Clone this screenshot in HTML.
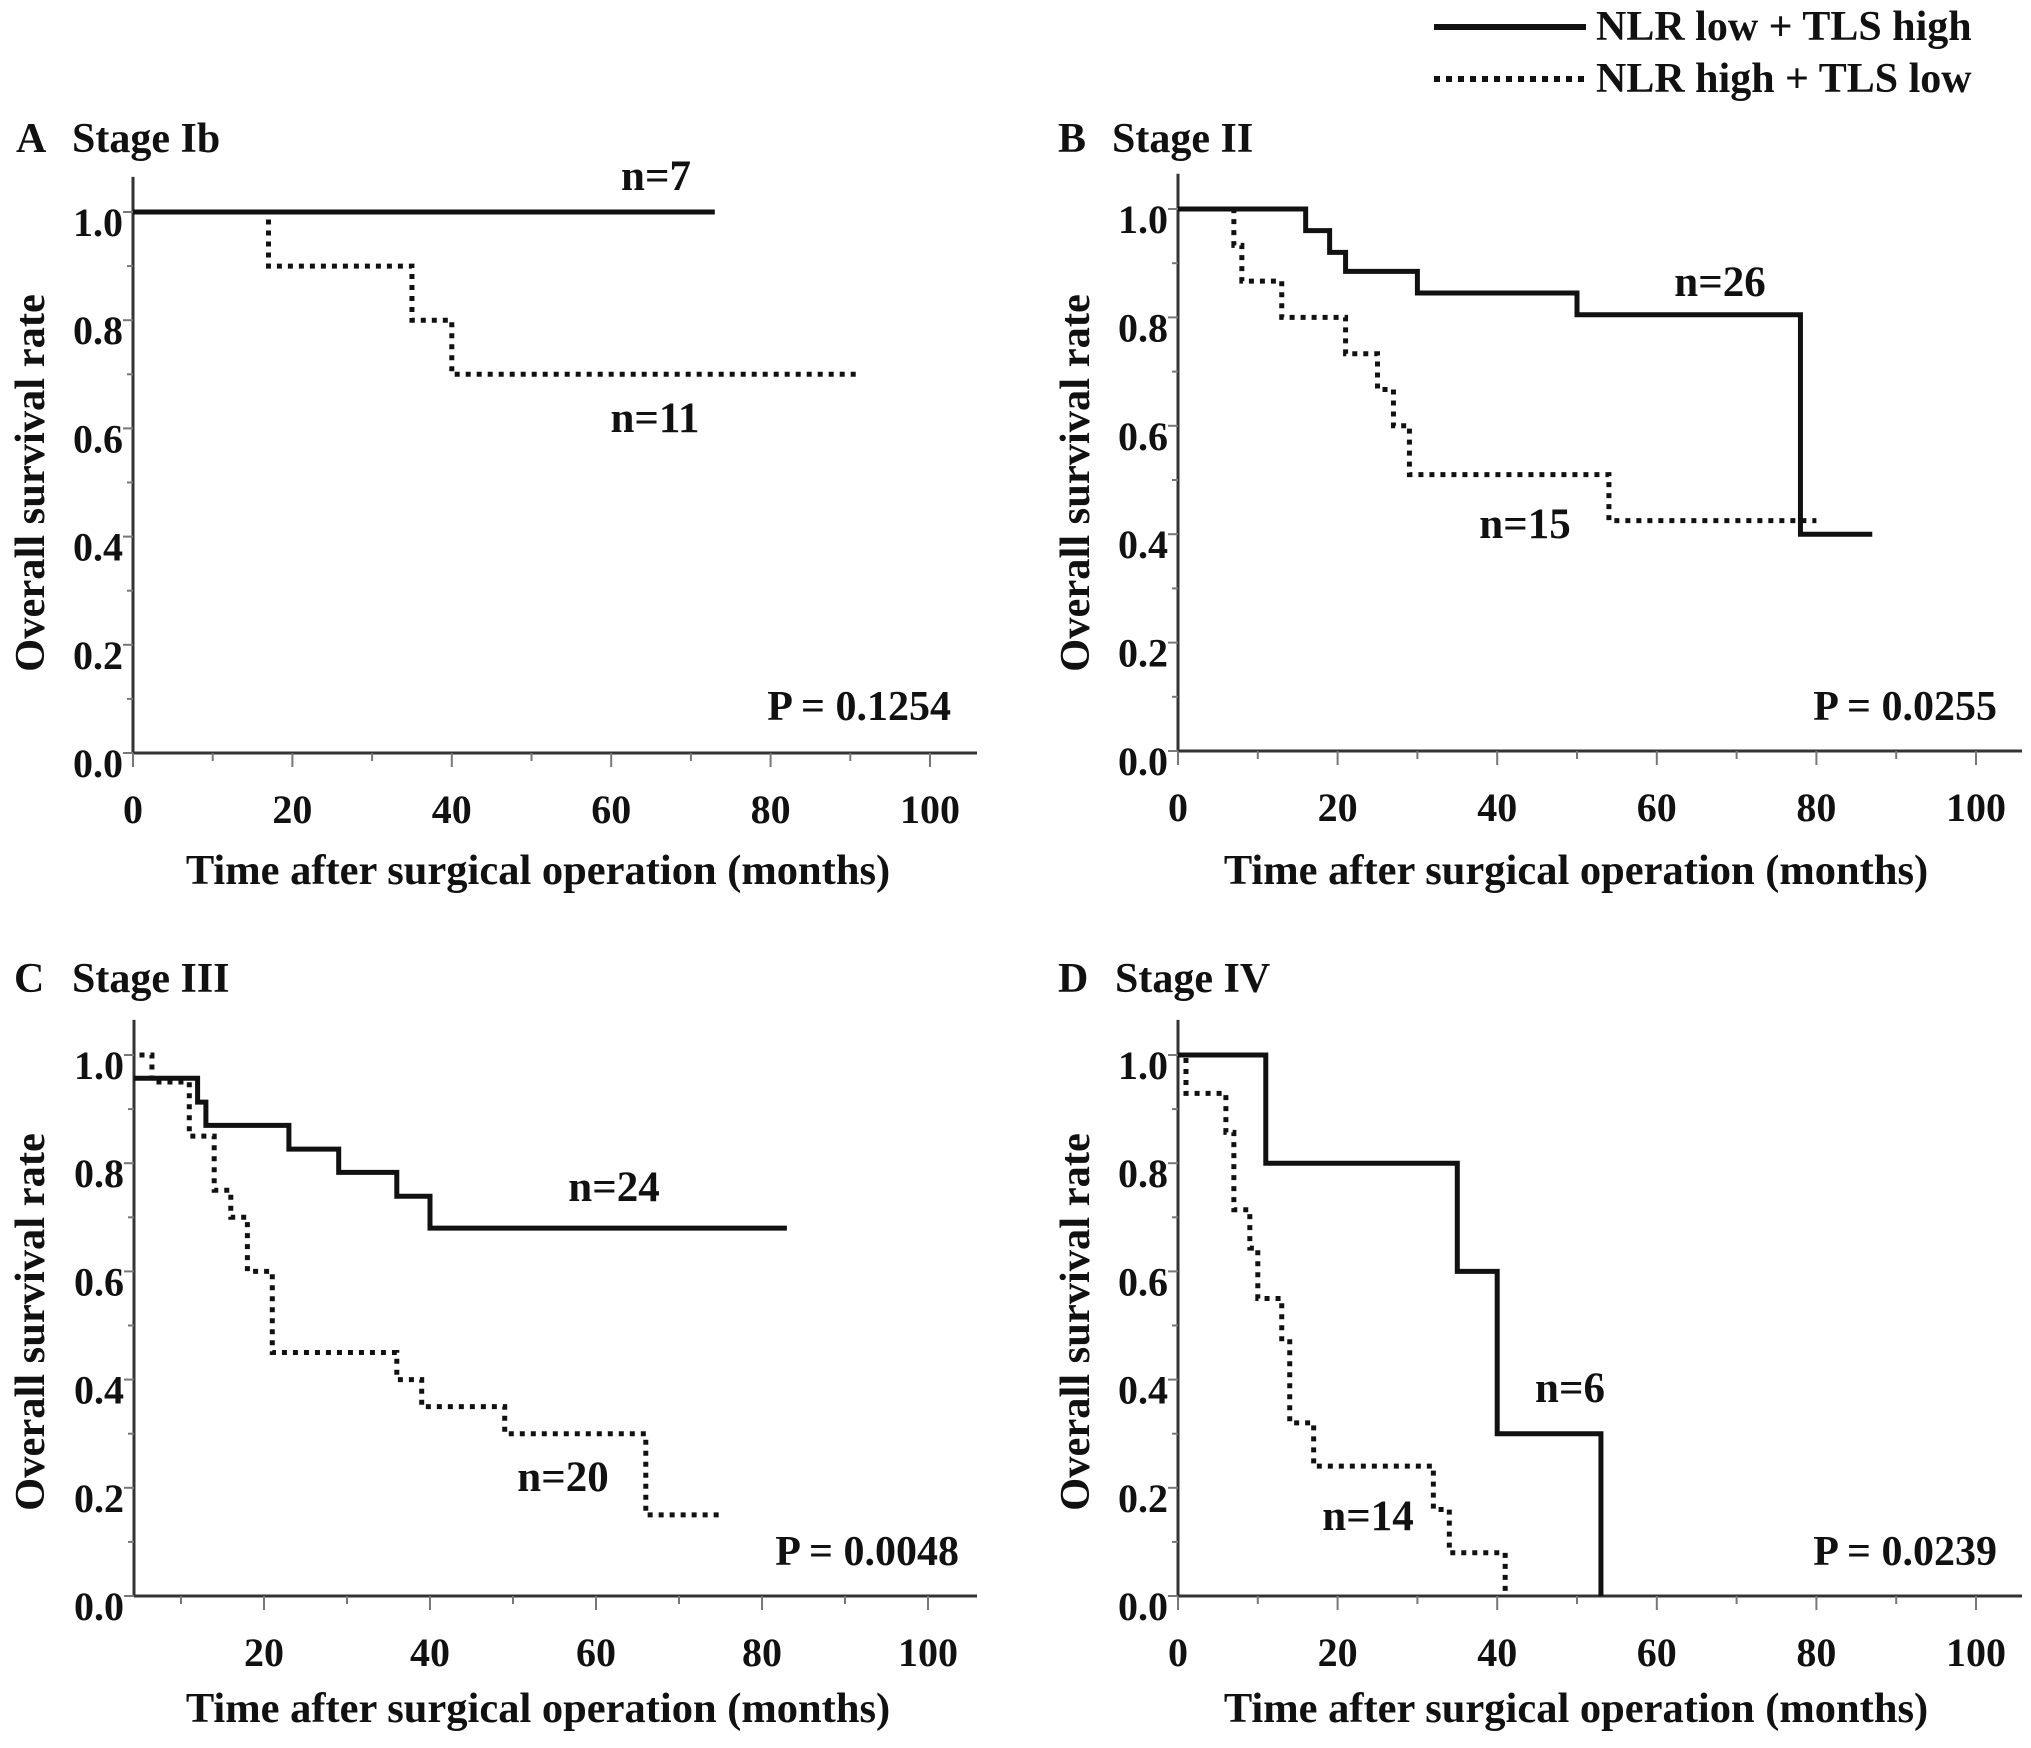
<!DOCTYPE html>
<html><head><meta charset="utf-8"><style>
html,body{margin:0;padding:0;background:#fff}
svg text{font-family:"Liberation Serif",serif;font-weight:bold;fill:#111}
</style></head><body>
<svg id="fig" width="2031" height="1743" viewBox="0 0 2031 1743" xmlns="http://www.w3.org/2000/svg">
<g>
<line x1="1434" y1="27" x2="1586" y2="27" stroke="#111" stroke-width="6"/>
<text x="1596" y="40" font-size="42">NLR low + TLS high</text>
<line x1="1434" y1="79" x2="1586" y2="79" stroke="#111" stroke-width="6" stroke-dasharray="6 6"/>
<text x="1596" y="92" font-size="42">NLR high + TLS low</text>
</g>
</svg>
<script>
// Panel A (Stage Ib)
const aSolidT=[0,73], aSolidS=[1.0,1.0];
const aDotT=[0,17,35,40,91], aDotS=[1.0,0.9,0.8,0.7,0.7];
// Panel B (Stage II)
const bSolidT=[0,16,19,21,30,50,78,87], bSolidS=[1.0,0.96,0.92,0.885,0.845,0.805,0.40,0.40];
const bDotT=[0,7,8,13,21,25,27,29,54,80], bDotS=[1.0,0.933,0.867,0.8,0.733,0.667,0.6,0.51,0.425,0.425];
// Panel C (Stage III)
const cSolidT=[4.3,12,13,23,29,36,40,83], cSolidS=[0.957,0.913,0.87,0.826,0.783,0.739,0.68,0.68];
const cDotT=[5,6.5,11,14,16,18,21,36,39,49,66,75], cDotS=[1.0,0.95,0.85,0.75,0.70,0.60,0.45,0.40,0.35,0.30,0.15,0.15];
// Panel D (Stage IV)
const dSolidT=[0,11,35,40,53,53], dSolidS=[1.0,0.8,0.6,0.3,0.0,0.0];
const dDotT=[0,1,6,7,9,10,13,14,17,32,34,41,41], dDotS=[1.0,0.929,0.857,0.714,0.643,0.55,0.47,0.32,0.24,0.16,0.08,0.0,0.0];
const xTicks=[0,20,40,60,80,100];
const yTicks=[0.0,0.2,0.4,0.6,0.8,1.0];
const pValues=["P = 0.1254","P = 0.0255","P = 0.0048","P = 0.0239"];
const nSolid=["n=7","n=26","n=24","n=6"];
const nDot=["n=11","n=15","n=20","n=14"];
const panelLetters=["A","B","C","D"];
const panelTitles=["Stage Ib","Stage II","Stage III","Stage IV"];

const svg=document.getElementById('fig');
const NS='http://www.w3.org/2000/svg';
function mk(tag,attrs,parent){const e=document.createElementNS(NS,tag);for(const k in attrs)e.setAttribute(k,attrs[k]);parent.appendChild(e);return e;}
function stepPath(ts,ss,X,Y){let d='M'+X(ts[0])+','+Y(ss[0]);for(let i=1;i<ts.length;i++){d+=' H'+X(ts[i])+' V'+Y(ss[i]);}return d;}

const panels=[
 {ax:133,x0:133,x100:930,y0:753,y1:212,xEnd:977,tMin:0,showZero:true,st:aSolidT,ss:aSolidS,dt:aDotT,ds:aDotS,
  title:[16,72,152],nS:[656,190],nD:[655,432],p:[951,720],xt:[538,884],yt:[30,483]},
 {ax:1178,x0:1178,x100:1976,y0:751,y1:209,xEnd:2022,tMin:0,showZero:true,st:bSolidT,ss:bSolidS,dt:bDotT,ds:bDotS,
  title:[1058,1112,152],nS:[1720,296],nD:[1525,538],p:[1997,720],xt:[1576,884],yt:[1075,483]},
 {ax:134,x0:98,x100:928,y0:1596,y1:1055,xEnd:977,tMin:4.3,showZero:false,st:cSolidT,ss:cSolidS,dt:cDotT,ds:cDotS,
  title:[14,72,992],nS:[614,1201],nD:[563,1491],p:[959,1565],xt:[538,1722],yt:[30,1322]},
 {ax:1178,x0:1178,x100:1976,y0:1596,y1:1055,xEnd:2022,tMin:0,showZero:true,st:dSolidT,ss:dSolidS,dt:dDotT,ds:dDotS,
  title:[1058,1115,992],nS:[1570,1402],nD:[1368,1530],p:[1997,1565],xt:[1576,1722],yt:[1075,1322]}
];

panels.forEach((P,i)=>{
 const X=t=>P.x0+(P.x100-P.x0)*t/100;
 const Y=s=>P.y0-(P.y0-P.y1)*s;
 const g=mk('g',{},svg);
 
 
 const tl=mk('text',{x:P.title[0],y:P.title[2],'font-size':42},g);tl.textContent=panelLetters[i];
 
 
 const tt=mk('text',{x:P.title[1],y:P.title[2],'font-size':42},g);tt.textContent=panelTitles[i];
 
 
 const ya=mk('line',{x1:P.ax,y1:Y(1.065),x2:P.ax,y2:P.y0,stroke:'#333','stroke-width':3},g);
 
 
 const xa=mk('line',{x1:P.ax,y1:P.y0,x2:P.xEnd,y2:P.y0,stroke:'#333','stroke-width':3},g);
 
 
 for(let k=0;k<=10;k++){
  const v=k/10;
  const tk=mk('line',{x1:P.ax-(k%2?6:10),y1:Y(v),x2:P.ax,y2:Y(v),stroke:'#777','stroke-width':2},g);
  
  
 }
 for(let m=0;m<=100;m+=10){
  if(X(m)<P.ax-1)continue;
  const tk=mk('line',{x1:X(m),y1:P.y0,x2:X(m),y2:P.y0+(m%20?8:14),stroke:'#777','stroke-width':2},g);
  
  
 }
 yTicks.forEach(v=>{
  const t=mk('text',{x:P.ax-10,y:Y(v)+24,'font-size':40,'text-anchor':'end'},g);t.textContent=v.toFixed(1);
  
  
 });
 xTicks.forEach(m=>{
  if(m===0&&!P.showZero)return;
  const t=mk('text',{x:X(m),y:P.y0+70,'font-size':40,'text-anchor':'middle'},g);t.textContent=m;
  
  
 });
 const xt=mk('text',{x:P.xt[0],y:P.xt[1],'font-size':42.5,'text-anchor':'middle'},g);xt.textContent='Time after surgical operation (months)';
 
 
 const yt=mk('text',{x:0,y:0,'font-size':42.5,'text-anchor':'middle',transform:'translate('+(P.yt[0]+14)+','+P.yt[1]+') rotate(-90)'},g);yt.textContent='Overall survival rate';
 
 
 const ds=mk('path',{d:stepPath(P.dt,P.ds,X,Y),fill:'none',stroke:'#111','stroke-width':5,'stroke-dasharray':'5 6'},g);
 
 
 const sl=mk('path',{d:stepPath(P.st,P.ss,X,Y),fill:'none',stroke:'#111','stroke-width':5},g);
 
 
 const n1=mk('text',{x:P.nS[0],y:P.nS[1],'font-size':43,'text-anchor':'middle'},g);n1.textContent=nSolid[i];
 
 
 const n2=mk('text',{x:P.nD[0],y:P.nD[1],'font-size':43,'text-anchor':'middle'},g);n2.textContent=nDot[i];
 
 
 const pv=mk('text',{x:P.p[0],y:P.p[1],'font-size':42,'text-anchor':'end'},g);pv.textContent=pValues[i];
 
 
});
</script>
</body></html>
